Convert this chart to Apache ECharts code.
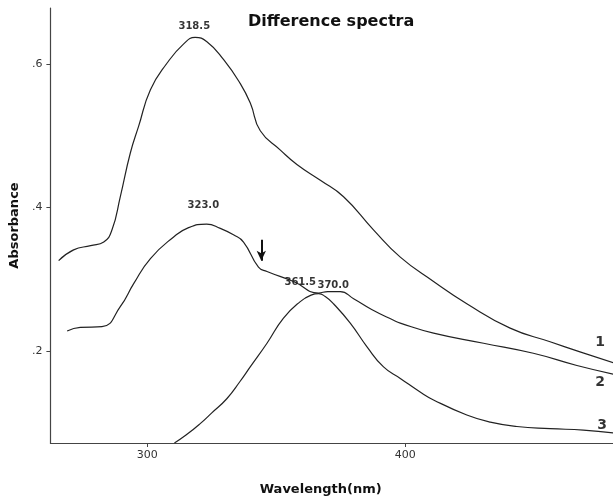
<!DOCTYPE html>
<html><head><meta charset="utf-8">
<script src="https://cdn.jsdelivr.net/npm/echarts@6/dist/echarts.min.js"></script>
<style>html,body{margin:0;padding:0;background:#fff}#c{width:613px;height:502px}</style>
</head><body><div id="c"></div>
<script>
// Curve 1
const curve1 = [[265.6,0.326],[271.4,0.341],[278,0.347],[283.1,0.352],[286.3,0.369],[289.5,0.415],[293.4,0.476],[296.6,0.513],[301.2,0.564],[307.6,0.601],[314.1,0.628],[318.5,0.637],[323.1,0.631],[329.6,0.606],[336.0,0.573],[340,0.545],[343.8,0.507],[351.6,0.480],[358,0.460],[367.1,0.438],[376.1,0.415],[387.7,0.369],[398.1,0.331],[411.0,0.297],[423.9,0.266],[440.7,0.232],[456.2,0.213],[467.8,0.199],[480.7,0.184]];
// Curve 2
const curve2 = [[268.9,0.228],[274.0,0.233],[282.4,0.234],[289.5,0.262],[294.7,0.294],[301.2,0.329],[310.2,0.359],[316,0.372],[323.0,0.377],[328.3,0.371],[333.4,0.362],[337.3,0.352],[343.1,0.317],[346.4,0.311],[356.7,0.297],[366.4,0.281],[370.0,0.283],[374.8,0.283],[380.0,0.273],[387,0.258],[395.5,0.243],[398.1,0.239],[411.0,0.225],[430.4,0.211],[449.7,0.197],[466.6,0.180],[480.7,0.168]];
// Curve 3
const curve3 = [[310.5,0.072],[315,0.083],[320.5,0.099],[325,0.114],[330.9,0.134],[336.0,0.158],[339.9,0.178],[346.4,0.211],[352.8,0.246],[359.3,0.269],[363.5,0.278],[366.5,0.280],[369,0.276],[372.2,0.266],[378.7,0.239],[385.2,0.206],[391.6,0.178],[398.1,0.162],[405.8,0.143],[411.0,0.132],[423.9,0.111],[433,0.101],[443.3,0.095],[456.2,0.092],[469.1,0.090],[480.7,0.086]];
// curve number labels: [text, wavelength, absorbance]
const curveLabels = [['1',475.6,0.2125],['2',475.6,0.157],['3',476.4,0.097]];
const xTicks = [300, 400];
const yTicks = [0.2, 0.4, 0.6];
// peak annotations: [text, wavelength, absorbance]
const peakLabels = [['318.5',318.2,0.652],['323.0',321.7,0.403],['361.5',359.3,0.296],['370.0',372.1,0.292]];
// arrow: wavelength, from absorbance, to absorbance
const arrowAt = [344.2, 0.355, 0.326];

const chart = echarts.init(document.getElementById('c'));
const lineStyle = {color:'#222', width:1.2};
function curveSeries(data, name){
  return {type:'line', name, data, smooth:0.5, symbol:'none', lineStyle, silent:true};
}
const series = [curveSeries(curve1,'1'), curveSeries(curve2,'2'), curveSeries(curve3,'3')];
series.push({
  type:'scatter', data:peakLabels.map(p=>[p[1],p[2],p[0]]), symbolSize:0, silent:true,
  label:{show:true, position:'inside', formatter:p=>p.data[2], color:'#000', textBorderWidth:0, fontFamily:'DejaVu Sans', fontWeight:'bold', fontSize:10}
});
series.push({
  type:'scatter', data:curveLabels.map(p=>[p[1],p[2],p[0]]), symbolSize:0, silent:true,
  label:{show:true, position:'inside', formatter:p=>p.data[2], color:'#000', textBorderWidth:0, fontFamily:'DejaVu Sans', fontWeight:'bold', fontSize:14}
});
series.push({
  type:'line', data:[], silent:true,
  markLine:{silent:true, symbol:['none','arrow'], symbolSize:[7,10], label:{show:false},
    lineStyle:{color:'#111', width:2, type:'solid'},
    data:[[{coord:[arrowAt[0],arrowAt[1]]},{coord:[arrowAt[0],arrowAt[2]]}]]}
});
chart.setOption({
  animation:false,
  backgroundColor:'#fff',
  title:{text:'Difference spectra', left:243, top:9, textStyle:{fontFamily:'DejaVu Sans', fontWeight:'bold', fontSize:16, color:'#111'}},
  grid:{left:50, right:0, top:8, bottom:59},
  xAxis:{type:'value', min:262.4, max:480.6,
    name:'Wavelength(nm)', nameLocation:'middle', nameGap:40,
    nameTextStyle:{fontFamily:'DejaVu Sans', fontWeight:'bold', fontSize:13, color:'#111', padding:[0,22,0,0]},
    axisLine:{lineStyle:{color:'#444', width:1.2}},
    axisTick:{customValues:xTicks, length:4, inside:false, lineStyle:{color:'#444'}},
    axisLabel:{customValues:xTicks, color:'#333', fontFamily:'DejaVu Sans', fontSize:11, margin:7},
    splitLine:{show:false}},
  yAxis:{type:'value', min:0.072, max:0.678,
    name:'Absorbance', nameLocation:'middle', nameGap:28,
    nameTextStyle:{fontFamily:'DejaVu Sans', fontWeight:'bold', fontSize:13, color:'#111'},
    axisLine:{show:true, lineStyle:{color:'#444', width:1.2}},
    axisTick:{show:true, customValues:yTicks, length:4, lineStyle:{color:'#444'}},
    axisLabel:{customValues:yTicks, color:'#333', fontFamily:'DejaVu Sans', fontSize:11, margin:8,
      formatter:v=>String(v).replace(/^0/,'')},
    splitLine:{show:false}},
  series
});
</script></body></html>
